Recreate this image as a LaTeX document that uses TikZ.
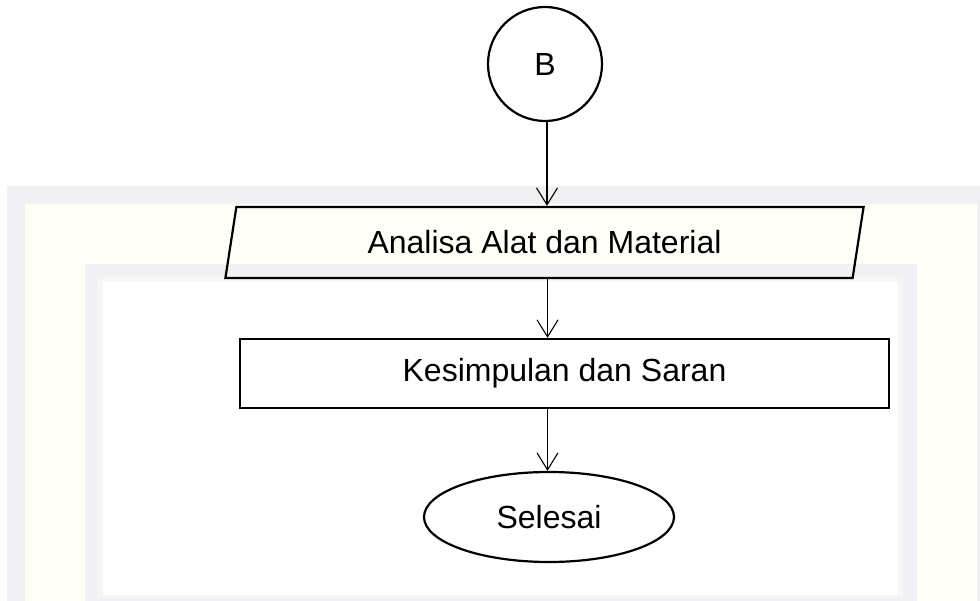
\documentclass[tikz,border=0pt]{standalone}
\usepackage{fontspec}
\setmainfont{Liberation Sans}
\usetikzlibrary{shapes.geometric,arrows.meta}
\definecolor{wmgray}{HTML}{F1F1F3}
\definecolor{wmcream}{HTML}{FFFEF7}
\definecolor{wmgray2}{HTML}{F6F6F7}
\tikzset{
  shapeline/.style={draw=black,line width=2.2pt},
  lbl/.style={font=\fontsize{32}{38}\selectfont},
  arr/.style={draw=black,line width=1.1pt,-{Straight Barb[length=17pt,width=21pt,line width=1.1pt]}},
}
\begin{document}
\begin{tikzpicture}[x=1pt,y=-1pt]
\useasboundingbox (0,0) rectangle (980,601);
\fill[white] (0,0) rectangle (980,601);
% watermark frame
\fill[wmgray] (7,186) rectangle (980,601);
\fill[wmcream] (25,204) rectangle (977,601);
\fill[wmgray] (85,264) rectangle (917,601);
\fill[wmgray2] (97,276) rectangle (903,598);
\fill[white] (103,282) rectangle (898,595);
% nodes
\node[shapeline,circle,minimum size=114pt,inner sep=0pt,lbl] (B) at (545,64) {B};
\node[shapeline,trapezium,trapezium left angle=75,trapezium right angle=105,
      minimum width=641pt,minimum height=71pt,inner sep=0pt,trapezium stretches=true,lbl] (anl) at (544.5,242.5) {Analisa Alat dan Material};
\node[shapeline,rectangle,minimum width=649pt,minimum height=69pt,inner sep=0pt,lbl] (kes) at (564.5,373.5) {Kesimpulan dan Saran};
\node[shapeline,ellipse,minimum width=250pt,minimum height=90pt,inner sep=0pt,lbl] (sel) at (549,517) {Selesai};
% connectors
\draw[arr] ([xshift=2pt]B.south) -- ([xshift=2pt]B.south |- anl.north);
\draw[arr] ([xshift=3pt]anl.south) -- ([xshift=3pt]anl.south |- kes.north);
\draw[arr] ([xshift=-17pt]kes.south) -- ([xshift=-17pt]kes.south |- sel.north);
\end{tikzpicture}
\end{document}
